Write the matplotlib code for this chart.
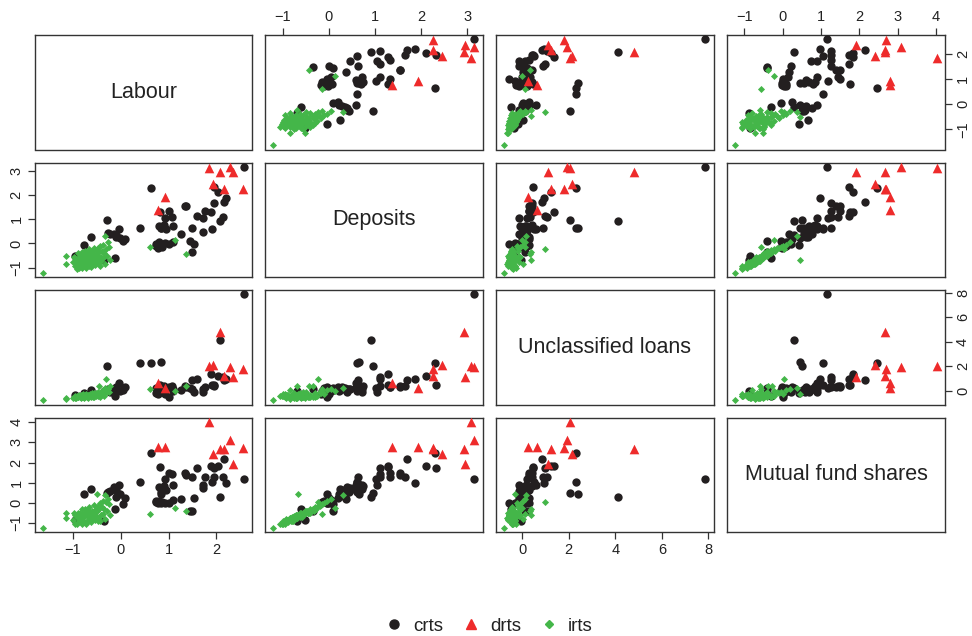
import numpy as np
import matplotlib
matplotlib.use("Agg")
import matplotlib.pyplot as plt
from matplotlib.lines import Line2D

plt.rcParams['font.family'] = ['Liberation Sans', 'DejaVu Sans']

var_names = ["Labour", "Deposits", "Unclassified loans", "Mutual fund shares"]
groups = ["crts", "drts", "irts"]

# ---- crts observations ----
crts_labour = [-0.28, -0.03, -0.15, -0.09, 0.08, -0.02, -0.22, -0.27, -0.63, -0.77, -0.95, -0.36, -0.13, 0.05, -0.10,
               0.64, 0.41, 0.85, 0.82, 1.01, 0.93, 1.08, 0.80, 0.88, 0.95, 0.84, 0.90, 1.09, 0.73, 0.80, 0.77, 1.00,
               0.87, 0.74, 1.09, 0.92, 0.84,
               2.58, 1.96, 2.04, 2.20, 2.16, 1.96, 1.34, 1.37, 1.77, 1.60, 1.72, 1.88, 2.08, 1.50, 1.90, 1.71, 1.27,
               1.53, 1.48, 1.45, 2.13]
crts_deposits = [0.95, 0.58, 0.40, 0.28, 0.19, 0.23, 0.40, 0.44, 0.25, -0.05, -0.52, -0.68, -0.60, 0.10, 0.35,
                 2.30, 0.62, 0.65, 1.29, 1.33, 1.03, 1.10, 0.70, 0.72, 0.60, 0.62, 0.75, 0.72, -0.01, 0.07, -0.18, -0.04,
                 -0.15, -0.11, 0.05, 0.00, -0.05,
                 3.16, 2.33, 2.11, 1.88, 1.70, 1.65, 1.54, 1.54, 1.33, 1.12, 1.05, 1.29, 0.92, 0.64, 0.61, 0.47, 0.37,
                 -0.005, -0.34, 0.10, 1.10]
crts_unclassified = [2.05, 0.60, 0.14, 0.27, 0.27, 0.00, -0.14, 0.10, 0.05, -0.20, -0.35, -0.06, -0.47, 0.05, 0.20,
                     2.30, 2.30, 2.38, 0.45, 0.30, 0.20, 0.35, 0.10, -0.10, 0.25, 0.00, 0.40, 0.15, -0.15, 0.05, -0.25, -0.55,
                     -0.05, 0.20, 0.00, -0.30, 0.30,
                     7.87, 0.45, 1.23, 0.94, 0.86, 0.40, 0.40, 0.27, 0.27, 0.99, -0.14, 1.37, 4.10, 0.91, 0.50, 0.13, 0.05,
                     -0.14, 0.10, 0.20, 1.08]
crts_mutual = [0.50, 0.91, 0.78, 0.62, 0.24, 0.46, 0.59, 0.55, 0.67, 0.42, -0.85, -0.88, -0.31, -0.04, 0.30,
               2.47, 1.06, 0.45, 1.77, 1.49, 1.19, 1.44, 0.80, 0.70, 0.62, 0.55, 0.85, 0.91, 0.05, 0.10, -0.02, 0.00,
               0.03, 0.08, 0.13, 0.02, -0.02,
               1.16, 1.73, 1.84, 0.98, 2.16, 1.27, 1.49, 1.39, 1.27, 1.73, 0.91, 1.84, 0.29, 1.27, 1.06, 0.75, 0.18,
               0.23, -0.41, -0.41, 1.27]

# ---- drts observations ----
drts_labour = [1.84, 2.07, 2.28, 2.34, 1.92, 2.15, 2.56, 0.93, 0.77]
drts_deposits = [3.09, 2.94, 3.16, 2.95, 2.46, 2.25, 2.26, 1.93, 1.37]
drts_unclassified = [2.05, 4.78, 1.91, 1.09, 2.13, 1.23, 1.78, 0.23, 0.63]
drts_mutual = [4.02, 2.66, 3.10, 1.91, 2.42, 2.66, 2.70, 2.79, 2.79]

# ---- irts observations ----
irts_labour = [-0.98, -0.95, -0.93, -0.92, -0.90, -0.90, -0.88, -0.87, -0.86, -0.85, -0.84, -0.83, -0.82, -0.80,
               -0.80, -0.79, -0.78, -0.77, -0.76, -0.75, -0.74, -0.73, -0.72, -0.71, -0.70, -0.69, -0.68, -0.67,
               -0.66, -0.65, -0.64, -0.63, -0.62, -0.61, -0.60, -0.59, -0.58, -0.57, -0.56, -0.55, -0.54, -0.53,
               -0.52, -0.51, -0.50, -0.49, -0.48, -0.47, -0.46, -0.45, -0.44, -0.43, -0.42, -0.41, -0.40, -0.38,
               -0.37, -0.35, -0.33, -0.32, -0.30, -0.29, -0.27, -0.25, -0.22, -1.00, -0.96,
               -1.63, -1.15, -1.15, 1.37, 1.14, 0.61]
irts_deposits = [-0.55, -0.95, -0.72, -1.05, -0.40, -0.85, -0.62, -1.00, -0.78, -0.50, -0.92, -0.68, -0.35, -1.02,
                 -0.80, -0.58, -0.95, -0.45, -0.72, -0.88, -0.30, -0.62, -1.00, -0.52, -0.80, -0.40, -0.68, -0.92,
                 -0.25, -0.58, -0.78, -0.45, -0.98, -0.62, -0.32, -0.85, -0.50, -0.70, -0.18, -0.42, -0.90, -0.60,
                 -0.28, -0.75, -0.67, -0.48, -0.82, -0.20, -0.62, -0.35, -0.95, -0.10, -0.55, -0.72, -0.30, -0.05,
                 -0.62, -0.40, -0.85, 0.30, -0.24, -0.50, 0.05, -0.15, -0.70, -0.75, -0.60,
                 -1.21, -0.52, -0.84, -0.43, 0.14, -0.15]
irts_unclassified = [-0.50, -0.45, -0.58, -0.40, -0.48, -0.55, -0.35, -0.44, -0.52, -0.45, -0.60, -0.32, -0.50, -0.42,
                     -0.38, -0.55, -0.30, -0.46, -0.58, -0.36, -0.48, -0.40, -0.25, -0.52, -0.44, -0.38, -0.56, -0.32,
                     -0.46, -0.26, -0.42, -0.50, -0.36, -0.22, -0.40, -0.48, -0.30, -0.44, -0.18, -0.52, -0.36, -0.28,
                     -0.46, -0.15, -0.30, -0.34, -0.42, -0.12, -0.38, 0.36, -0.48, -0.24, -0.08, -0.36, -0.20, 0.02,
                     -0.30, -0.44, 0.05, 0.18, 0.98, -0.14, 0.12, -0.08, 0.36, -0.62, -0.56,
                     -0.78, -0.62, -0.66, 0.35, 0.00, 0.13]
irts_mutual = [-0.50, -1.05, -0.60, -1.05, -0.48, -0.75, -0.67, -0.92, -0.90, -0.48, -0.82, -0.74, -0.31, -1.04,
               -0.68, -0.68, -0.89, -0.49, -0.64, -0.96, -0.30, -0.52, -1.05, -0.40, -0.90, -0.35, -0.70, -0.86,
               -0.22, -0.62, -0.70, -0.50, -0.95, -0.55, -0.40, -0.78, -0.45, -0.76, -0.10, -0.48, -0.84, -0.52,
               -0.30, -0.66, 0.46, -0.40, -0.88, -0.15, -0.70, -0.28, -0.90, 0.00, -0.60, -0.62, -0.20, 0.10,
               -0.55, -0.30, -0.80, 0.37, 0.05, -0.40, 0.20, -0.05, -0.60, -0.85, -0.62,
               -1.23, -0.50, -0.73, -0.39, -0.23, -0.57]

data = {
    "crts": [crts_labour, crts_deposits, crts_unclassified, crts_mutual],
    "drts": [drts_labour, drts_deposits, drts_unclassified, drts_mutual],
    "irts": [irts_labour, irts_deposits, irts_unclassified, irts_mutual],
}

style = {
    "crts": dict(marker='o', color='#231f20', s=36),
    "drts": dict(marker='^', color='#ee2b2b', s=48),
    "irts": dict(marker='D', color='#44b649', s=13),
}

ticks = [[-1, 0, 1, 2], [-1, 0, 1, 2, 3], [0, 2, 4, 6, 8], [-1, 0, 1, 2, 3, 4]]

# axis limits per variable: range +/- 4%
lims = []
for k in range(4):
    allv = np.concatenate([np.asarray(data[g][k], float) for g in groups])
    lo, hi = allv.min(), allv.max()
    pad = 0.04 * (hi - lo)
    lims.append((lo - pad, hi + pad))

W, H = 972, 636
fig = plt.figure(figsize=(W / 100, H / 100), dpi=100)

col_left = [34.7, 265.0, 496.0, 727.3]
col_w = 217.5
row_top = [35.0, 162.5, 290.0, 417.5]
row_h = 114.5

for i in range(4):
    for j in range(4):
        ax = fig.add_axes([col_left[j] / W, 1 - (row_top[i] + row_h) / H, col_w / W, row_h / H])
        for sp in ax.spines.values():
            sp.set_color('#333333')
            sp.set_linewidth(1.0)
        ax.set_xlim(lims[j])
        ax.set_ylim(lims[i])
        ax.tick_params(which='both', direction='out', length=5, width=0.9, color='#333333',
                       labelsize=10.5, labelcolor='#222222', pad=3)
        ax.set_xticks([])
        ax.set_yticks([])
        if i == j:
            ax.text(0.5, 0.5, var_names[i], transform=ax.transAxes, ha='center', va='center',
                    fontsize=15.5, color='#222222')
        else:
            for g in groups:
                st = style[g]
                ax.scatter(data[g][j], data[g][i], marker=st['marker'], c=st['color'], s=st['s'],
                           linewidths=0, zorder=3)
        # R pairs axis placement
        if i == 0 and j % 2 == 1:
            ax.set_xticks(ticks[j])
            ax.xaxis.set_ticks_position('top')
            ax.tick_params(axis='x', top=True, bottom=False, labeltop=True, labelbottom=False)
        if i == 3 and j % 2 == 0:
            ax.set_xticks(ticks[j])
            ax.tick_params(axis='x', top=False, bottom=True, labeltop=False, labelbottom=True)
        if j == 0 and i % 2 == 1:
            ax.set_yticks(ticks[i])
            ax.tick_params(axis='y', left=True, right=False, labelleft=True, labelright=False)
            for lab in ax.get_yticklabels():
                lab.set_rotation(90)
                lab.set_va('center')
        if j == 3 and i % 2 == 0:
            ax.set_yticks(ticks[i])
            ax.yaxis.set_ticks_position('right')
            ax.tick_params(axis='y', left=False, right=True, labelleft=False, labelright=True)
            for lab in ax.get_yticklabels():
                lab.set_rotation(90)
                lab.set_va('center')

handles = [Line2D([], [], linestyle='none', marker='o', color=style['crts']['color'], markersize=6.5),
           Line2D([], [], linestyle='none', marker='^', color=style['drts']['color'], markersize=7.5),
           Line2D([], [], linestyle='none', marker='D', color=style['irts']['color'], markersize=4.5)]
fig.legend(handles, groups, loc='center', bbox_to_anchor=(0.5, 1 - 626 / H), ncol=3, frameon=False,
           fontsize=13.5, handletextpad=0.2, columnspacing=0.7, handlelength=1.6, labelcolor='#222222')

fig.savefig("out.png", dpi=100)
